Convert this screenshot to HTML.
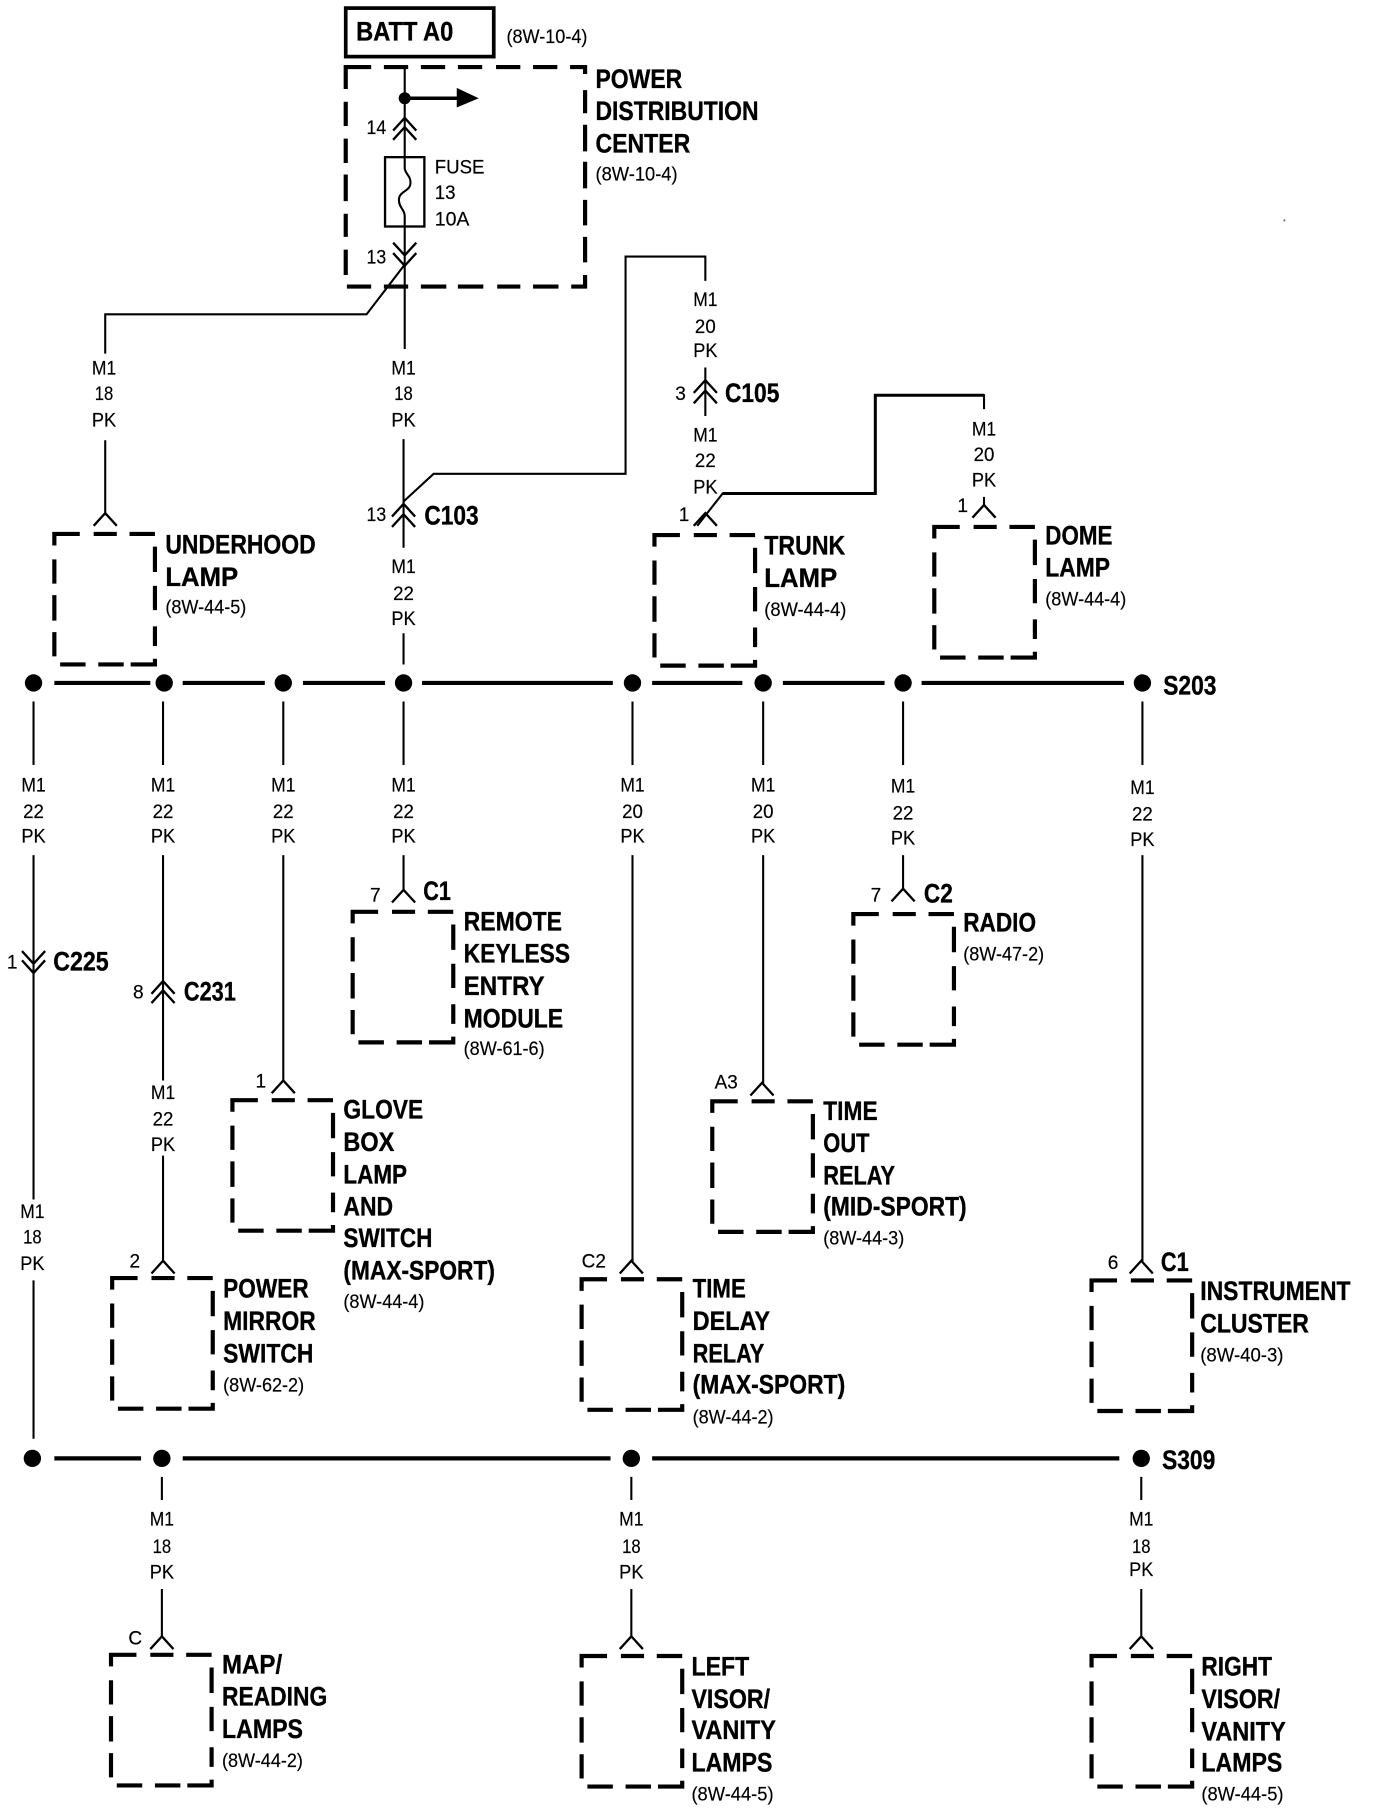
<!DOCTYPE html>
<html><head><meta charset="utf-8"><title>Wiring diagram</title>
<style>
html,body{margin:0;padding:0;background:#fff}
svg{display:block;position:absolute;left:0;top:0}
text{font-family:"Liberation Sans",sans-serif;fill:#000}
.b{font-weight:bold;font-size:23px;stroke:#000;stroke-width:.3px}
.r{font-size:17px;stroke:#000;stroke-width:.15px}
.w{font-size:16.5px;text-anchor:middle;stroke:#000;stroke-width:.15px}
.p{font-size:16.5px;stroke:#000;stroke-width:.15px}
.c{font-weight:bold;font-size:23px;stroke:#000;stroke-width:.3px}
.t{stroke:#000;stroke-width:1.8;fill:none}
.k{stroke:#000;stroke-width:3.6;fill:none}
</style></head><body>
<svg width="1376" height="1812" viewBox="0 0 1190 1568" preserveAspectRatio="none" xmlns="http://www.w3.org/2000/svg">
<defs>
<path id="box" fill="none" stroke="#000" stroke-width="3.6" d="M0,10V0H22M34,0H54M65,0H87M0,22V43M0,53V75M0,85V106M5,113H27M38,113H60M66,113H87V108M87,11V33M87,45V66M87,80V97"/>
<path id="up" fill="none" stroke="#000" stroke-width="2" d="M-10,11L0,0L10,11"/>
<path id="dn" fill="none" stroke="#000" stroke-width="2" d="M-10,-11L0,0L10,-11"/>
</defs>
<rect width="1190" height="1568" fill="#fff"/>

<!-- top -->
<rect x="299" y="7" width="128" height="42" fill="none" stroke="#000" stroke-width="3.2"/>
<text class="b" x="308" y="35" textLength="84" lengthAdjust="spacingAndGlyphs">BATT A0</text>
<text class="r" x="438" y="37" textLength="70" lengthAdjust="spacingAndGlyphs">(8W-10-4)</text>
<path fill="none" stroke="#000" stroke-width="3.6" transform="translate(299,58)" d="M0,19V0H22M33,0H54M65,0H86M97,0H118M130,0H151M162,0H183M194,0H207V6M0,30V51M0,62V83M0,93V116M0,127V147M0,158V180M1,190H22M33,190H54M65,190H87M97,190H119M131,190H151M162,190H184M195,190H207V180M207,20V40M207,50V73M207,82V105M207,115V137M207,147V169"/>
<circle cx="350" cy="85" r="5.2"/>
<path class="t" d="M350,58V137M350,196V302"/>
<path d="M350,85H397" stroke="#000" stroke-width="3" fill="none"/>
<path d="M395,76L414,85L395,93Z"/>
<use href="#up" x="350" y="102"/><use href="#up" x="350" y="110"/>
<rect x="333" y="136" width="34" height="60" fill="none" stroke="#000" stroke-width="2"/>
<path class="t" d="M350,136V146C351,151 355,152 355,158C355,166 345,165 345,173C345,180 350,181 350,187V196"/>
<use href="#dn" x="350" y="221"/><use href="#dn" x="350" y="230"/>
<path class="t" stroke-width="2" d="M350,229L317,272H91V306"/>
<text class="r" x="376" y="150" textLength="43" lengthAdjust="spacingAndGlyphs">FUSE</text>
<text class="r" x="376" y="172" textLength="18" lengthAdjust="spacingAndGlyphs">13</text>
<text class="r" x="376" y="195" textLength="30" lengthAdjust="spacingAndGlyphs">10A</text>
<text class="p" x="317" y="116" textLength="17" lengthAdjust="spacingAndGlyphs">14</text>
<text class="p" x="317" y="228" textLength="17" lengthAdjust="spacingAndGlyphs">13</text>
<text class="b" x="515" y="76" textLength="75" lengthAdjust="spacingAndGlyphs">POWER</text>
<text class="b" x="515" y="104" textLength="141" lengthAdjust="spacingAndGlyphs">DISTRIBUTION</text>
<text class="b" x="515" y="132" textLength="82" lengthAdjust="spacingAndGlyphs">CENTER</text>
<text class="r" x="515" y="156" textLength="71" lengthAdjust="spacingAndGlyphs">(8W-10-4)</text>

<!-- upper wires -->
<path class="t" d="M91,381V446M349,380V474M349,548V575"/>
<use href="#up" x="91" y="444"/>
<path class="t" d="M349,434L375,410H541V222H610V243"/>
<use href="#up" x="349" y="436"/><use href="#up" x="349" y="445"/>
<path class="t" d="M610,318V360"/>
<use href="#up" x="610" y="329"/><use href="#up" x="610" y="338"/>
<path class="t" d="M603,455L625,427H757V342H851V354"/>
<path class="k" d="M625,427H757V342H851" style="stroke-width:2.6"/>
<use href="#up" x="610" y="444"/>
<path class="t" d="M851,430V438"/>
<use href="#up" x="851" y="437"/>

<text class="w" x="90" y="324" textLength="21" lengthAdjust="spacingAndGlyphs">M1</text><text class="w" x="90" y="346" textLength="16" lengthAdjust="spacingAndGlyphs">18</text><text class="w" x="90" y="369" textLength="21" lengthAdjust="spacingAndGlyphs">PK</text>
<text class="w" x="349" y="324" textLength="21" lengthAdjust="spacingAndGlyphs">M1</text><text class="w" x="349" y="346" textLength="16" lengthAdjust="spacingAndGlyphs">18</text><text class="w" x="349" y="369" textLength="21" lengthAdjust="spacingAndGlyphs">PK</text>
<text class="w" x="610" y="265" textLength="21" lengthAdjust="spacingAndGlyphs">M1</text><text class="w" x="610" y="288" textLength="18" lengthAdjust="spacingAndGlyphs">20</text><text class="w" x="610" y="309" textLength="21" lengthAdjust="spacingAndGlyphs">PK</text>
<text class="w" x="610" y="382" textLength="21" lengthAdjust="spacingAndGlyphs">M1</text><text class="w" x="610" y="404" textLength="18" lengthAdjust="spacingAndGlyphs">22</text><text class="w" x="610" y="427" textLength="21" lengthAdjust="spacingAndGlyphs">PK</text>
<text class="w" x="851" y="377" textLength="21" lengthAdjust="spacingAndGlyphs">M1</text><text class="w" x="851" y="399" textLength="18" lengthAdjust="spacingAndGlyphs">20</text><text class="w" x="851" y="421" textLength="21" lengthAdjust="spacingAndGlyphs">PK</text>
<text class="w" x="349" y="496" textLength="21" lengthAdjust="spacingAndGlyphs">M1</text><text class="w" x="349" y="519" textLength="18" lengthAdjust="spacingAndGlyphs">22</text><text class="w" x="349" y="541" textLength="21" lengthAdjust="spacingAndGlyphs">PK</text>

<text class="p" x="317" y="451" textLength="17" lengthAdjust="spacingAndGlyphs">13</text>
<text class="c" x="367" y="454" textLength="47" lengthAdjust="spacingAndGlyphs">C103</text>
<text class="p" x="584" y="346">3</text>
<text class="c" x="627" y="348" textLength="47" lengthAdjust="spacingAndGlyphs">C105</text>
<text class="p" x="587" y="451">1</text>
<text class="p" x="828" y="443">1</text>

<use href="#box" x="47" y="462"/>
<text class="b" x="143" y="479" textLength="130" lengthAdjust="spacingAndGlyphs">UNDERHOOD</text>
<text class="b" x="143" y="507" textLength="63" lengthAdjust="spacingAndGlyphs">LAMP</text>
<text class="r" x="143" y="531" textLength="70" lengthAdjust="spacingAndGlyphs">(8W-44-5)</text>
<use href="#box" x="566" y="463"/>
<text class="b" x="661" y="480" textLength="70" lengthAdjust="spacingAndGlyphs">TRUNK</text>
<text class="b" x="661" y="508" textLength="63" lengthAdjust="spacingAndGlyphs">LAMP</text>
<text class="r" x="661" y="533" textLength="71" lengthAdjust="spacingAndGlyphs">(8W-44-4)</text>
<use href="#box" x="808" y="456"/>
<text class="b" x="904" y="471" textLength="58" lengthAdjust="spacingAndGlyphs">DOME</text>
<text class="b" x="904" y="499" textLength="56" lengthAdjust="spacingAndGlyphs">LAMP</text>
<text class="r" x="904" y="524" textLength="70" lengthAdjust="spacingAndGlyphs">(8W-44-4)</text>

<!-- bus S203 -->
<path class="k" d="M47,591H130M158,591H229M262,591H333M365,591H530M564,591H642M677,591H765M797,591H972"/>
<g><circle cx="29" cy="591" r="7.5"/><circle cx="142" cy="591" r="7.5"/><circle cx="245" cy="591" r="7.5"/><circle cx="349" cy="591" r="7.5"/><circle cx="547" cy="591" r="7.5"/><circle cx="660" cy="591" r="7.5"/><circle cx="781" cy="591" r="7.5"/><circle cx="988" cy="591" r="7.5"/></g>
<text class="c" x="1006" y="601" textLength="46" lengthAdjust="spacingAndGlyphs">S203</text>

<!-- drops -->
<path class="t" d="M29,607V662M141,607V662M245,607V662M349,607V662M547,607V662M660,607V662M781,607V662M988,607V662"/>
<g>
<text class="w" x="29" y="685" textLength="21" lengthAdjust="spacingAndGlyphs">M1</text><text class="w" x="29" y="708" textLength="18" lengthAdjust="spacingAndGlyphs">22</text><text class="w" x="29" y="729" textLength="21" lengthAdjust="spacingAndGlyphs">PK</text>
<text class="w" x="141" y="685" textLength="21" lengthAdjust="spacingAndGlyphs">M1</text><text class="w" x="141" y="708" textLength="18" lengthAdjust="spacingAndGlyphs">22</text><text class="w" x="141" y="729" textLength="21" lengthAdjust="spacingAndGlyphs">PK</text>
<text class="w" x="245" y="685" textLength="21" lengthAdjust="spacingAndGlyphs">M1</text><text class="w" x="245" y="708" textLength="18" lengthAdjust="spacingAndGlyphs">22</text><text class="w" x="245" y="729" textLength="21" lengthAdjust="spacingAndGlyphs">PK</text>
<text class="w" x="349" y="685" textLength="21" lengthAdjust="spacingAndGlyphs">M1</text><text class="w" x="349" y="708" textLength="18" lengthAdjust="spacingAndGlyphs">22</text><text class="w" x="349" y="729" textLength="21" lengthAdjust="spacingAndGlyphs">PK</text>
<text class="w" x="547" y="685" textLength="21" lengthAdjust="spacingAndGlyphs">M1</text><text class="w" x="547" y="708" textLength="18" lengthAdjust="spacingAndGlyphs">20</text><text class="w" x="547" y="729" textLength="21" lengthAdjust="spacingAndGlyphs">PK</text>
<text class="w" x="660" y="685" textLength="21" lengthAdjust="spacingAndGlyphs">M1</text><text class="w" x="660" y="708" textLength="18" lengthAdjust="spacingAndGlyphs">20</text><text class="w" x="660" y="729" textLength="21" lengthAdjust="spacingAndGlyphs">PK</text>
<text class="w" x="781" y="686" textLength="21" lengthAdjust="spacingAndGlyphs">M1</text><text class="w" x="781" y="709" textLength="18" lengthAdjust="spacingAndGlyphs">22</text><text class="w" x="781" y="731" textLength="21" lengthAdjust="spacingAndGlyphs">PK</text>
<text class="w" x="988" y="687" textLength="21" lengthAdjust="spacingAndGlyphs">M1</text><text class="w" x="988" y="710" textLength="18" lengthAdjust="spacingAndGlyphs">22</text><text class="w" x="988" y="732" textLength="21" lengthAdjust="spacingAndGlyphs">PK</text>
</g>

<path class="t" d="M29,740V838M29,1108V1245M29,838V1038"/>
<use href="#dn" x="29" y="834"/><use href="#dn" x="29" y="842"/>
<text class="p" x="6" y="838">1</text>
<text class="c" x="46" y="840" textLength="48" lengthAdjust="spacingAndGlyphs">C225</text>
<text class="w" x="28" y="1054" textLength="21" lengthAdjust="spacingAndGlyphs">M1</text><text class="w" x="28" y="1076" textLength="16" lengthAdjust="spacingAndGlyphs">18</text><text class="w" x="28" y="1099" textLength="21" lengthAdjust="spacingAndGlyphs">PK</text>

<path class="t" d="M141,740V935M141,1000V1092"/>
<use href="#up" x="141" y="849"/><use href="#up" x="141" y="857"/>
<text class="p" x="115" y="864">8</text>
<text class="c" x="159" y="866" textLength="45" lengthAdjust="spacingAndGlyphs">C231</text>
<text class="w" x="141" y="951" textLength="21" lengthAdjust="spacingAndGlyphs">M1</text><text class="w" x="141" y="974" textLength="18" lengthAdjust="spacingAndGlyphs">22</text><text class="w" x="141" y="996" textLength="21" lengthAdjust="spacingAndGlyphs">PK</text>
<use href="#up" x="141" y="1091"/>
<text class="p" x="112" y="1097">2</text>

<path class="t" d="M245,740V936"/>
<use href="#up" x="245" y="935"/>
<text class="p" x="221" y="941">1</text>

<path class="t" d="M349,740V771"/>
<use href="#up" x="349" y="770"/>
<text class="p" x="320" y="780">7</text>
<text class="c" x="366" y="779" textLength="24" lengthAdjust="spacingAndGlyphs">C1</text>

<path class="t" d="M547,740V1092"/>
<use href="#up" x="546" y="1091"/>
<text class="p" x="503" y="1097" textLength="21" lengthAdjust="spacingAndGlyphs">C2</text>

<path class="t" d="M660,740V938"/>
<use href="#up" x="659" y="937"/>
<text class="p" x="618" y="942" textLength="20" lengthAdjust="spacingAndGlyphs">A3</text>

<path class="t" d="M781,740V769"/>
<use href="#up" x="781" y="769"/>
<text class="p" x="753" y="780">7</text>
<text class="c" x="799" y="781" textLength="25" lengthAdjust="spacingAndGlyphs">C2</text>

<path class="t" d="M988,740V1092"/>
<use href="#up" x="987" y="1091"/>
<text class="p" x="958" y="1098">6</text>
<text class="c" x="1004" y="1100" textLength="24" lengthAdjust="spacingAndGlyphs">C1</text>

<!-- mid boxes -->
<use href="#box" x="305" y="789"/>
<text class="b" x="401" y="805" textLength="85" lengthAdjust="spacingAndGlyphs">REMOTE</text>
<text class="b" x="401" y="833" textLength="92" lengthAdjust="spacingAndGlyphs">KEYLESS</text>
<text class="b" x="401" y="861" textLength="70" lengthAdjust="spacingAndGlyphs">ENTRY</text>
<text class="b" x="401" y="889" textLength="86" lengthAdjust="spacingAndGlyphs">MODULE</text>
<text class="r" x="401" y="913" textLength="70" lengthAdjust="spacingAndGlyphs">(8W-61-6)</text>

<use href="#box" x="738" y="791"/>
<text class="b" x="833" y="806" textLength="63" lengthAdjust="spacingAndGlyphs">RADIO</text>
<text class="r" x="833" y="831" textLength="70" lengthAdjust="spacingAndGlyphs">(8W-47-2)</text>

<use href="#box" x="201" y="952"/>
<text class="b" x="297" y="968" textLength="69" lengthAdjust="spacingAndGlyphs">GLOVE</text>
<text class="b" x="297" y="996" textLength="44" lengthAdjust="spacingAndGlyphs">BOX</text>
<text class="b" x="297" y="1024" textLength="55" lengthAdjust="spacingAndGlyphs">LAMP</text>
<text class="b" x="297" y="1052" textLength="43" lengthAdjust="spacingAndGlyphs">AND</text>
<text class="b" x="297" y="1079" textLength="77" lengthAdjust="spacingAndGlyphs">SWITCH</text>
<text class="b" x="297" y="1107" textLength="131" lengthAdjust="spacingAndGlyphs">(MAX-SPORT)</text>
<text class="r" x="297" y="1132" textLength="70" lengthAdjust="spacingAndGlyphs">(8W-44-4)</text>

<use href="#box" x="616" y="953"/>
<text class="b" x="712" y="969" textLength="47" lengthAdjust="spacingAndGlyphs">TIME</text>
<text class="b" x="712" y="997" textLength="40" lengthAdjust="spacingAndGlyphs">OUT</text>
<text class="b" x="712" y="1025" textLength="62" lengthAdjust="spacingAndGlyphs">RELAY</text>
<text class="b" x="712" y="1052" textLength="124" lengthAdjust="spacingAndGlyphs">(MID-SPORT)</text>
<text class="r" x="712" y="1077" textLength="70" lengthAdjust="spacingAndGlyphs">(8W-44-3)</text>

<use href="#box" x="97" y="1106"/>
<text class="b" x="193" y="1123" textLength="74" lengthAdjust="spacingAndGlyphs">POWER</text>
<text class="b" x="193" y="1151" textLength="80" lengthAdjust="spacingAndGlyphs">MIRROR</text>
<text class="b" x="193" y="1179" textLength="78" lengthAdjust="spacingAndGlyphs">SWITCH</text>
<text class="r" x="193" y="1204" textLength="70" lengthAdjust="spacingAndGlyphs">(8W-62-2)</text>

<use href="#box" x="503" y="1107"/>
<text class="b" x="599" y="1123" textLength="46" lengthAdjust="spacingAndGlyphs">TIME</text>
<text class="b" x="599" y="1151" textLength="67" lengthAdjust="spacingAndGlyphs">DELAY</text>
<text class="b" x="599" y="1179" textLength="62" lengthAdjust="spacingAndGlyphs">RELAY</text>
<text class="b" x="599" y="1206" textLength="132" lengthAdjust="spacingAndGlyphs">(MAX-SPORT)</text>
<text class="r" x="599" y="1232" textLength="70" lengthAdjust="spacingAndGlyphs">(8W-44-2)</text>

<use href="#box" x="944" y="1108"/>
<text class="b" x="1038" y="1125" textLength="130" lengthAdjust="spacingAndGlyphs">INSTRUMENT</text>
<text class="b" x="1038" y="1153" textLength="94" lengthAdjust="spacingAndGlyphs">CLUSTER</text>
<text class="r" x="1038" y="1178" textLength="72" lengthAdjust="spacingAndGlyphs">(8W-40-3)</text>

<!-- bus S309 -->
<path class="k" d="M47,1262H122M158,1262H528M564,1262H968"/>
<circle cx="28" cy="1262" r="7.5"/><circle cx="140" cy="1262" r="7.5"/><circle cx="546" cy="1262" r="7.5"/><circle cx="987" cy="1262" r="7.5"/>
<text class="c" x="1005" y="1271" textLength="46" lengthAdjust="spacingAndGlyphs">S309</text>

<path class="t" d="M140,1278V1298M546,1278V1298M987,1278V1298M140,1375V1417M546,1375V1417M987,1375V1417"/>
<use href="#up" x="140" y="1416"/><use href="#up" x="546" y="1416"/><use href="#up" x="987" y="1416"/>
<text class="p" x="111" y="1423">C</text>

<text class="w" x="140" y="1320" textLength="21" lengthAdjust="spacingAndGlyphs">M1</text><text class="w" x="140" y="1344" textLength="16" lengthAdjust="spacingAndGlyphs">18</text><text class="w" x="140" y="1366" textLength="21" lengthAdjust="spacingAndGlyphs">PK</text>
<text class="w" x="546" y="1320" textLength="21" lengthAdjust="spacingAndGlyphs">M1</text><text class="w" x="546" y="1344" textLength="16" lengthAdjust="spacingAndGlyphs">18</text><text class="w" x="546" y="1366" textLength="21" lengthAdjust="spacingAndGlyphs">PK</text>
<text class="w" x="987" y="1320" textLength="21" lengthAdjust="spacingAndGlyphs">M1</text><text class="w" x="987" y="1344" textLength="16" lengthAdjust="spacingAndGlyphs">18</text><text class="w" x="987" y="1364" textLength="21" lengthAdjust="spacingAndGlyphs">PK</text>

<use href="#box" x="96" y="1432"/>
<text class="b" x="192" y="1448" textLength="52" lengthAdjust="spacingAndGlyphs">MAP/</text>
<text class="b" x="192" y="1476" textLength="91" lengthAdjust="spacingAndGlyphs">READING</text>
<text class="b" x="192" y="1504" textLength="70" lengthAdjust="spacingAndGlyphs">LAMPS</text>
<text class="r" x="192" y="1529" textLength="70" lengthAdjust="spacingAndGlyphs">(8W-44-2)</text>

<use href="#box" x="503" y="1433"/>
<text class="b" x="598" y="1450" textLength="50" lengthAdjust="spacingAndGlyphs">LEFT</text>
<text class="b" x="598" y="1478" textLength="68" lengthAdjust="spacingAndGlyphs">VISOR/</text>
<text class="b" x="598" y="1505" textLength="73" lengthAdjust="spacingAndGlyphs">VANITY</text>
<text class="b" x="598" y="1533" textLength="70" lengthAdjust="spacingAndGlyphs">LAMPS</text>
<text class="r" x="598" y="1558" textLength="71" lengthAdjust="spacingAndGlyphs">(8W-44-5)</text>

<use href="#box" x="944" y="1433"/>
<text class="b" x="1039" y="1450" textLength="61" lengthAdjust="spacingAndGlyphs">RIGHT</text>
<text class="b" x="1039" y="1478" textLength="68" lengthAdjust="spacingAndGlyphs">VISOR/</text>
<text class="b" x="1039" y="1506" textLength="73" lengthAdjust="spacingAndGlyphs">VANITY</text>
<text class="b" x="1039" y="1533" textLength="70" lengthAdjust="spacingAndGlyphs">LAMPS</text>
<text class="r" x="1039" y="1558" textLength="71" lengthAdjust="spacingAndGlyphs">(8W-44-5)</text>
<rect x="1110" y="190" width="1.5" height="1.5" fill="#555"/>
</svg>
</body></html>
